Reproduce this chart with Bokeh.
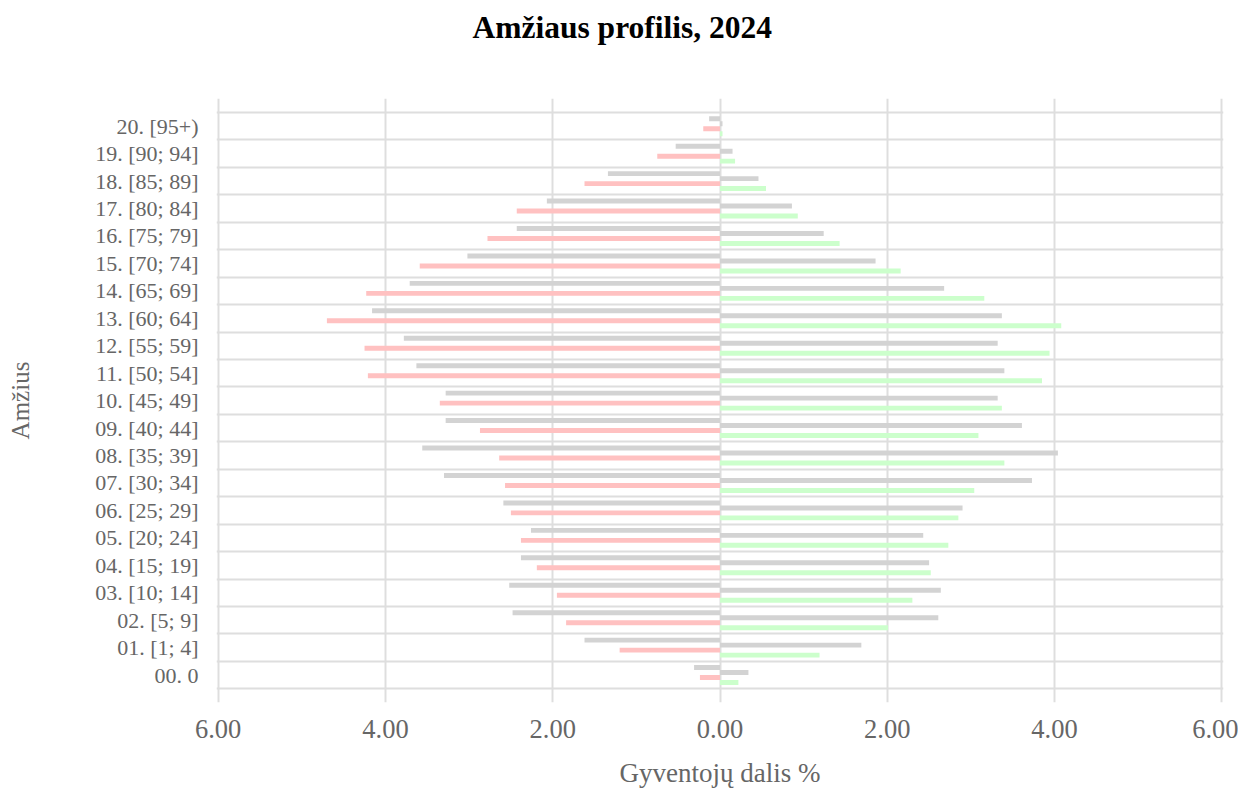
from bokeh.plotting import figure
from bokeh.models import FixedTicker, Range1d, ColumnDataSource, Title
from bokeh.transform import dodge
from bokeh.embed import file_html
from bokeh.resources import INLINE

categories = ["00. 0", "01. [1; 4]", "02. [5; 9]", "03. [10; 14]", "04. [15; 19]",
              "05. [20; 24]", "06. [25; 29]", "07. [30; 34]", "08. [35; 39]",
              "09. [40; 44]", "10. [45; 49]", "11. [50; 54]", "12. [55; 59]",
              "13. [60; 64]", "14. [65; 69]", "15. [70; 74]", "16. [75; 79]",
              "17. [80; 84]", "18. [85; 89]", "19. [90; 94]", "20. [95+)"]

left_grey = [0.31, 1.62, 2.48, 2.52, 2.38, 2.26, 2.59, 3.30, 3.56, 3.28, 3.28,
             3.63, 3.78, 4.16, 3.71, 3.02, 2.43, 2.07, 1.34, 0.53, 0.13]
left_pink = [0.24, 1.20, 1.84, 1.95, 2.19, 2.38, 2.50, 2.57, 2.64, 2.87, 3.35,
             4.21, 4.25, 4.70, 4.23, 3.59, 2.78, 2.43, 1.62, 0.75, 0.20]
right_grey = [0.34, 1.69, 2.61, 2.64, 2.50, 2.43, 2.90, 3.73, 4.04, 3.61, 3.32,
              3.40, 3.32, 3.37, 2.68, 1.86, 1.24, 0.86, 0.46, 0.15, 0.03]
right_green = [0.22, 1.19, 2.01, 2.30, 2.52, 2.73, 2.85, 3.04, 3.40, 3.09, 3.37,
               3.85, 3.94, 4.08, 3.16, 2.16, 1.43, 0.93, 0.55, 0.18, 0.03]

x_ticks = [-6, -4, -2, 0, 2, 4, 6]
x_tick_labels = ["6.00", "4.00", "2.00", "0.00", "2.00", "4.00", "6.00"]
title_text = "Amžiaus profilis, 2024"

FONT = "Liberation Serif"
GREY_TXT = "#666666"

idx = list(range(len(categories)))
src = ColumnDataSource(dict(
    y=idx,
    lg=[-v for v in left_grey],
    lp=[-v for v in left_pink],
    rg=right_grey,
    rgr=right_green,
))

p = figure(frame_width=1007, frame_height=604, output_backend="svg",
           toolbar_location=None,
           x_range=Range1d(-6.02, 6.02), y_range=Range1d(-1.0, 21.01),
           min_border_left=216, min_border_right=15,
           min_border_top=97, min_border_bottom=88)

slot = 0.182
bh = 0.18
p.hbar(y=dodge("y", 1.5 * slot), left="lg", right=0, height=bh, source=src,
       fill_color="#d3d3d3", line_color=None)
p.hbar(y=dodge("y", 0.5 * slot), left=0, right="rg", height=bh, source=src,
       fill_color="#d3d3d3", line_color=None)
p.hbar(y=dodge("y", -0.5 * slot), left="lp", right=0, height=bh, source=src,
       fill_color="#ffc1c1", line_color=None)
p.hbar(y=dodge("y", -1.5 * slot), left=0, right="rgr", height=bh, source=src,
       fill_color="#ccffcc", line_color=None)

# title
p.title.text = title_text
p.title.text_font = FONT
p.title.text_font_size = "31.5px"
p.title.text_font_style = "bold"
p.title.text_color = "#000000"
p.title.align = "left"
p.title.offset = 256
p.title.vertical_align = "top"
p.title.standoff = 18
# empty spacer between the title and the plot frame
p.add_layout(Title(text=" ", text_font_size="1px", standoff=40), "above")

# axes
p.xaxis.ticker = FixedTicker(ticks=x_ticks)
p.xaxis.major_label_overrides = {t: l for t, l in zip(x_ticks, x_tick_labels)}
p.yaxis.ticker = FixedTicker(ticks=idx)
p.yaxis.major_label_overrides = {i: c for i, c in zip(idx, categories)}
for ax in (p.xaxis[0], p.yaxis[0]):
    ax.axis_line_color = None
    ax.major_tick_line_color = None
    ax.minor_tick_line_color = None
    ax.major_label_text_font = FONT
    ax.major_label_text_color = GREY_TXT
    ax.axis_label_text_font = FONT
    ax.axis_label_text_color = GREY_TXT
    ax.axis_label_text_font_style = "normal"

p.xaxis.major_label_text_font_size = "26.5px"
p.yaxis.major_label_text_font_size = "22px"
p.xaxis.axis_label_text_font_size = "27px"
p.yaxis.axis_label_text_font_size = "25px"
p.xaxis.axis_label = "Gyventojų dalis %"
p.yaxis.axis_label = "Amžius"
p.xaxis.major_label_standoff = 11
p.xaxis.axis_label_standoff = 17
p.yaxis.major_label_standoff = 12
p.yaxis.axis_label_standoff = 58

# grids
p.xgrid.ticker = FixedTicker(ticks=x_ticks)
p.ygrid.ticker = FixedTicker(ticks=[i - 0.5 for i in range(len(categories) + 1)])
for g in (p.xgrid[0], p.ygrid[0]):
    g.grid_line_color = "#dedede"
    g.grid_line_width = 2

p.outline_line_color = None
p.background_fill_color = "white"
p.border_fill_color = "white"

open("out.html", "w").write(file_html(p, INLINE))
